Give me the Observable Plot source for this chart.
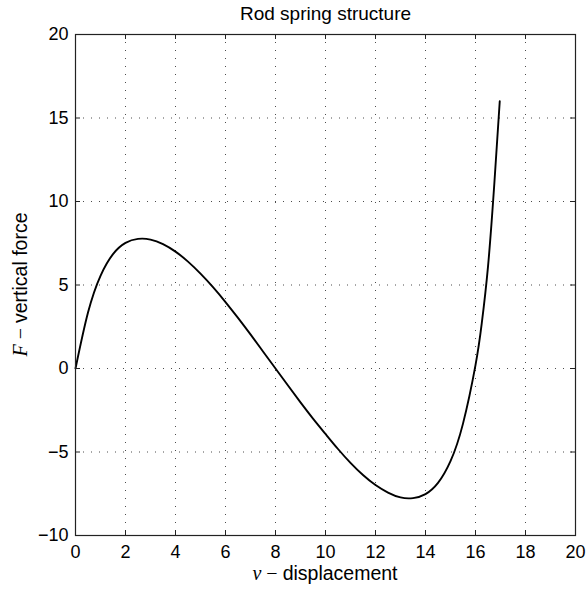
<!DOCTYPE html>
<html>
<head>
<meta charset="utf-8">
<script src="https://cdn.jsdelivr.net/npm/d3@7"></script>
<script src="https://cdn.jsdelivr.net/npm/@observablehq/plot@0.6"></script>
<style>
  html, body { margin: 0; padding: 0; background: #fff; }
  #chart svg { display: block; }
</style>
</head>
<body>
<div id="chart"></div>
<script>
const titleText = "Rod spring structure";
const xTicks = [0, 2, 4, 6, 8, 10, 12, 14, 16, 18, 20];
const yTicks = [-10, -5, 0, 5, 10, 15, 20];
const vValues = [0, 0.5, 1.0, 1.5, 2.0, 2.5, 3.0, 3.5, 4.0, 4.5, 5.0, 5.5, 6.0, 6.5, 7.0, 7.5, 8.0,
                 8.5, 9.0, 9.5, 10.0, 10.5, 11.0, 11.5, 12.0, 12.5, 13.0, 13.5, 14.0, 14.5, 15.0, 15.5, 16.0,
                 16.25, 16.5, 16.75, 16.97];
const fValues = [0, 3.35, 5.55, 6.85, 7.52, 7.76, 7.72, 7.45, 7.0, 6.4, 5.68, 4.87, 3.98, 3.03, 2.04, 1.02, 0,
                 -1.02, -2.03, -3.0, -3.92, -4.82, -5.65, -6.38, -6.98, -7.43, -7.72, -7.76, -7.52, -6.85, -5.55, -3.3, 0.2,
                 2.7, 6.1, 11.0, 16.0];

const curve = vValues.map((v, i) => ({v, F: fValues[i]}));

const W = 587, H = 589, mL = 75, mR = 12, mT = 34, mB = 54;
const innerH = H - mT - mB, innerW = W - mL - mR;
const tickLen = 5;
const fontFam = "'Liberation Sans', Arial, Helvetica, sans-serif";
const serifFam = "'Liberation Serif', 'DejaVu Serif', serif";
const fmt = d => d < 0 ? "\u2212" + Math.abs(d) : String(d);

const plot = Plot.plot({
  width: W, height: H,
  marginLeft: mL, marginRight: mR, marginTop: mT, marginBottom: mB,
  style: {fontFamily: fontFam, fontSize: "18px", color: "#000", background: "#fff"},
  x: {domain: [0, 20], ticks: xTicks, label: null},
  y: {domain: [-10, 20], ticks: yTicks, label: null},
  marks: [
    Plot.ruleX(xTicks, {stroke: "#000", strokeOpacity: 0.7, strokeWidth: 1, strokeDasharray: "1,7"}),
    Plot.ruleY(yTicks, {stroke: "#000", strokeOpacity: 0.7, strokeWidth: 1, strokeDasharray: "1,7"}),
    Plot.line(curve, {x: "v", y: "F", stroke: "#000", strokeWidth: 1.9, curve: "natural"}),
    Plot.tickX(xTicks, {x: d => d, insetTop: innerH - tickLen, stroke: "#222"}),
    Plot.tickX(xTicks, {x: d => d, insetBottom: innerH - tickLen, stroke: "#222"}),
    Plot.tickY(yTicks, {y: d => d, insetRight: innerW - tickLen, stroke: "#222"}),
    Plot.tickY(yTicks, {y: d => d, insetLeft: innerW - tickLen, stroke: "#222"}),
    Plot.axisX(xTicks, {tickSize: 0, tickPadding: 10, fontSize: 18, label: null, tickFormat: fmt}),
    Plot.axisY(yTicks, {tickSize: 0, tickPadding: 7, fontSize: 18, label: null, tickFormat: fmt}),
    Plot.frame({stroke: "#222", strokeWidth: 1.2}),
    Plot.text([titleText], {frameAnchor: "top", dy: -21, lineAnchor: "middle", fontSize: 19, fill: "#000"})
  ]
});

document.getElementById("chart").appendChild(plot);

const svg = d3.select(plot);
const xs = plot.scale("x"), ys = plot.scale("y");
const cx = (xs.apply(0) + xs.apply(20)) / 2;
const cy = (ys.apply(-10) + ys.apply(20)) / 2;

const xl = svg.append("text")
  .attr("x", cx).attr("y", H - 9)
  .attr("text-anchor", "middle")
  .attr("fill", "#000")
  .style("font-size", "19.5px")
  .style("font-family", fontFam);
xl.append("tspan").style("font-family", serifFam).style("font-style", "italic").style("font-size", "20px").text("v");
xl.append("tspan").style("font-family", serifFam).style("font-size", "20px").text(" \u2212 ");
xl.append("tspan").text("displacement");

const yl = svg.append("text")
  .attr("transform", `translate(${20},${cy}) rotate(-90)`)
  .attr("text-anchor", "middle")
  .attr("dy", "0.35em")
  .attr("fill", "#000")
  .style("font-size", "19.5px")
  .style("font-family", fontFam);
yl.append("tspan").style("font-family", serifFam).style("font-style", "italic").style("font-size", "20px").text("F");
yl.append("tspan").style("font-family", serifFam).style("font-size", "20px").text(" \u2212 ");
yl.append("tspan").text("vertical force");
</script>
</body>
</html>
